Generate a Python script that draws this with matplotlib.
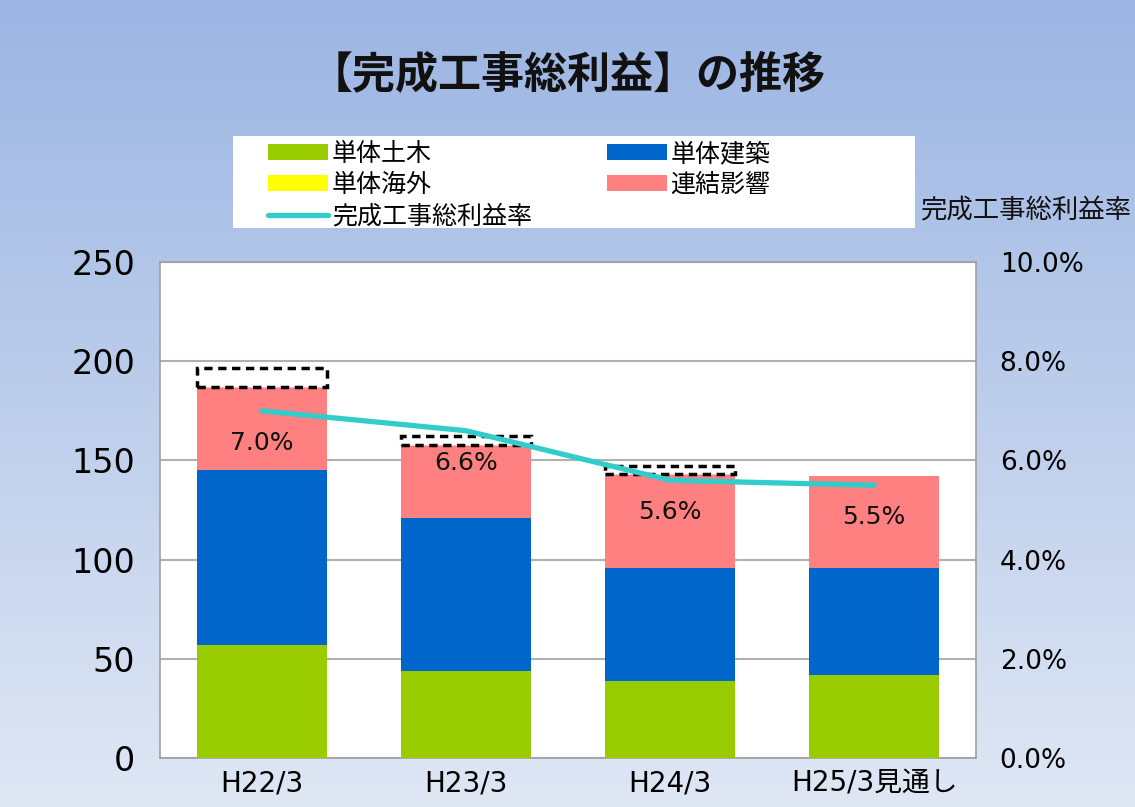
import numpy as np
import matplotlib
matplotlib.use('Agg')
import matplotlib.pyplot as plt
from matplotlib.ticker import FuncFormatter
from matplotlib.patches import Rectangle

plt.rcParams['font.family'] = ['Noto Sans CJK JP', 'DejaVu Sans']
NUM_FONT = 'DejaVu Sans'

# データ
categories = ['H22/3', 'H23/3', 'H24/3', 'H25/3見通し']
civil = [57, 44, 39, 42]            # 単体土木
building = [88, 77, 57, 54]         # 単体建築
overseas = [0, 0, 0, 0]             # 単体海外
consolidated = [42, 37, 47, 46]     # 連結影響
dashed_part = [9.5, 4.5, 4.1, 0]    # 点線枠
margin_rate = [7.0, 6.6, 5.6, 5.5]  # 完成工事総利益率 (%)
rate_labels = ['7.0%', '6.6%', '5.6%', '5.5%']

fig = plt.figure(figsize=(11.35, 8.07), dpi=100)

# 背景グラデーション
bg = fig.add_axes([0, 0, 1, 1], zorder=-10)
grad = np.linspace(0, 1, 256).reshape(-1, 1)
top = np.array([155, 181, 227]) / 255
bottom = np.array([223, 231, 244]) / 255
img = top[None, None, :] * (1 - grad[:, :, None]) + bottom[None, None, :] * grad[:, :, None]
bg.imshow(img, aspect='auto', extent=[0, 1, 0, 1])
bg.axis('off')

ax = fig.add_axes([0.141, 0.0607, 0.719, 0.6145])
ax.set_facecolor('white')
x = np.arange(len(categories))
w = 0.64

b1 = ax.bar(x, civil, w, color='#99cc00', zorder=3, label='単体土木')
b2 = ax.bar(x, building, w, bottom=civil, color='#0066cc', zorder=3, label='単体建築')
base2 = np.array(civil) + np.array(building)
b3 = ax.bar(x, overseas, w, bottom=base2, color='#ffff00', zorder=3, label='単体海外')
base3 = base2 + np.array(overseas)
b4 = ax.bar(x, consolidated, w, bottom=base3, color='#ff8080', zorder=3, label='連結影響')
base4 = base3 + np.array(consolidated)
for i in range(len(categories)):
    if dashed_part[i] > 0:
        ax.bar(x[i], dashed_part[i], w, bottom=base4[i], facecolor='white',
               edgecolor='black', linestyle=(0, (2.4, 1.6)), linewidth=2.5, zorder=3)

ax.set_xlim(-0.5, len(categories) - 0.5)
ax.set_ylim(0, 250)
ax.set_yticks(np.arange(0, 251, 50))
ax.set_xticks(x)
ax.set_xticklabels(categories, fontsize=20)
for t in ax.get_xticklabels():
    t.set_family([NUM_FONT, 'Noto Sans CJK JP'])
ax.tick_params(axis='y', labelsize=24, length=0, pad=18)
for t in ax.get_yticklabels():
    t.set_family(NUM_FONT)
ax.tick_params(axis='x', length=0, pad=8)
ax.grid(axis='y', color='#b0b0b0', linewidth=1.5, zorder=0)
for s in ax.spines.values():
    s.set_color('#a0a0a0')
    s.set_linewidth(1.2)

ax2 = ax.twinx()
ln, = ax2.plot(x, margin_rate, color='#33cccc', linewidth=3.8, zorder=5,
               solid_capstyle='round', label='完成工事総利益率')
ax2.set_ylim(0, 10)
ax2.set_yticks(np.arange(0, 10.1, 2))
ax2.yaxis.set_major_formatter(FuncFormatter(lambda v, p: f'{v:.1f}%'))
ax2.tick_params(axis='y', labelsize=19, length=0, pad=17)
for t in ax2.get_yticklabels():
    t.set_family(NUM_FONT)
for s in ax2.spines.values():
    s.set_visible(False)

# 折れ線のデータラベル(下)
for i in range(len(categories)):
    ax2.annotate(rate_labels[i], (x[i], margin_rate[i]), xytext=(0, -23),
                 textcoords='offset points', ha='center', va='center',
                 fontsize=18, family=NUM_FONT, color='#111111', zorder=6)

fig.text(0.5, 0.908, '【完成工事総利益】の推移', ha='center', va='center', fontsize=31,
         fontweight='bold', color='#111111')
fig.text(0.997, 0.74, '完成工事総利益率', ha='right', va='center', fontsize=19, color='#111111')

# 凡例
fig.patches.append(Rectangle((233 / 1135, 1 - 228 / 807), (915 - 233) / 1135, 92 / 807,
                             transform=fig.transFigure, facecolor='white',
                             edgecolor='none', zorder=1))
handles = [b1, b3, ln, b2, b4]
leg = fig.legend(handles, [h.get_label() for h in handles], ncol=2,
                 loc='upper left', bbox_to_anchor=(268 / 1135, 1 - 141 / 807),
                 fontsize=18, frameon=False,
                 handlelength=2.4, handleheight=0.6, labelspacing=0.2,
                 handletextpad=0.15, borderaxespad=0, borderpad=0,
                 columnspacing=3.0)
leg.set_zorder(2)

fig.savefig('out.png', dpi=100)
